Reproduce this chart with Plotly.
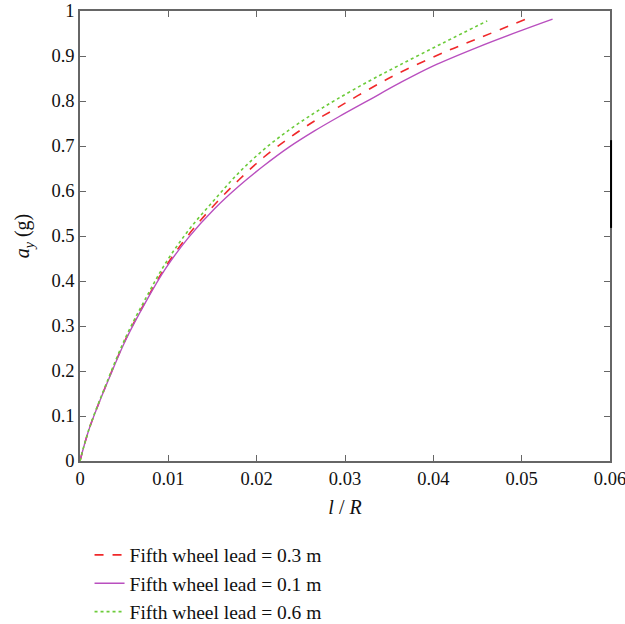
import plotly.graph_objects as go

# Fifth wheel lead = 0.3 m (dashed)
x_03 = [0, 0.001, 0.0029, 0.0052, 0.0074, 0.0097, 0.0123, 0.0152, 0.018, 0.0208,
        0.0237, 0.0265, 0.0293, 0.0327, 0.0361, 0.0418, 0.0452, 0.0505]
y_03 = [0, 0.069, 0.166, 0.272, 0.354, 0.432, 0.503, 0.569, 0.625, 0.675,
        0.718, 0.755, 0.787, 0.826, 0.862, 0.913, 0.94, 0.982]

# Fifth wheel lead = 0.1 m (solid)
x_01 = [0, 0.001, 0.0029, 0.0052, 0.0074, 0.0097, 0.0123, 0.0152, 0.018, 0.0208,
        0.0237, 0.0265, 0.0293, 0.0327, 0.0361, 0.040, 0.0452, 0.050, 0.0535]
y_01 = [0, 0.069, 0.165, 0.27, 0.352, 0.428, 0.497, 0.56, 0.611, 0.656,
        0.698, 0.733, 0.765, 0.802, 0.839, 0.878, 0.921, 0.957, 0.982]

# Fifth wheel lead = 0.6 m (dotted)
x_06 = [0, 0.001, 0.0029, 0.0052, 0.0074, 0.0097, 0.0123, 0.0152, 0.018, 0.0208,
        0.0237, 0.0265, 0.029, 0.0327, 0.0361, 0.041, 0.0461]
y_06 = [0, 0.07, 0.168, 0.276, 0.36, 0.44, 0.513, 0.58, 0.641, 0.692,
        0.736, 0.773, 0.803, 0.844, 0.879, 0.928, 0.978]

x_ticks = [0, 0.01, 0.02, 0.03, 0.04, 0.05, 0.06]
x_tick_text = ["0", "0.01", "0.02", "0.03", "0.04", "0.05", "0.06"]
y_ticks = [0, 0.1, 0.2, 0.3, 0.4, 0.5, 0.6, 0.7, 0.8, 0.9, 1]
y_tick_text = ["0", "0.1", "0.2", "0.3", "0.4", "0.5", "0.6", "0.7", "0.8", "0.9", "1"]

FONT = "Palatino Linotype, Book Antiqua, Palatino, Liberation Serif, serif"

fig = go.Figure()
fig.add_trace(go.Scatter(x=x_03, y=y_03, mode="lines", name="Fifth wheel lead = 0.3 m",
                         line=dict(color="#f0282a", dash="dash", width=1.6, shape="spline")))
fig.add_trace(go.Scatter(x=x_01, y=y_01, mode="lines", name="Fifth wheel lead = 0.1 m",
                         line=dict(color="#b94fbf", width=1.4, shape="spline")))
fig.add_trace(go.Scatter(x=x_06, y=y_06, mode="lines", name="Fifth wheel lead = 0.6 m",
                         line=dict(color="#6ccb3a", dash="dot", width=1.6, shape="spline")))

axis_common = dict(showgrid=False, zeroline=False, showline=True, linecolor="#666",
                   linewidth=1.5, mirror="ticks", ticks="inside", ticklen=6,
                   tickcolor="#666", tickwidth=1.2, automargin=False,
                   ticklabeloverflow="allow",
                   tickfont=dict(family=FONT, size=18.5, color="#111"))

fig.update_layout(
    width=625, height=624,
    paper_bgcolor="white", plot_bgcolor="white",
    margin=dict(l=80, r=15, t=11, b=163, autoexpand=False),
    font=dict(family=FONT, size=19, color="#111"),
    xaxis=dict(range=[0, 0.06], tickvals=x_ticks, ticktext=x_tick_text,
               title=dict(text="<i>l</i> / <i>R</i>", standoff=12,
                          font=dict(family=FONT, size=20)), **axis_common),
    yaxis=dict(range=[0, 1], tickvals=y_ticks, ticktext=y_tick_text,
               title=dict(text="<i>a<sub>y</sub></i> (g)", standoff=16,
                          font=dict(family=FONT, size=20)), **axis_common),
    legend=dict(x=0.018, y=-0.166, xanchor="left", yanchor="top",
                bgcolor="rgba(0,0,0,0)", tracegroupgap=0,
                font=dict(family=FONT, size=19.5, color="#111")),
    showlegend=True,
)

fig.add_shape(type="line", xref="paper", yref="paper", x0=1.002, x1=1.002, y0=0.518, y1=0.713,
              line=dict(color="black", width=2))

fig.write_html("out.html", config={"displayModeBar": False},
               post_script="document.body.style.margin='0';document.body.style.overflow='hidden';")
